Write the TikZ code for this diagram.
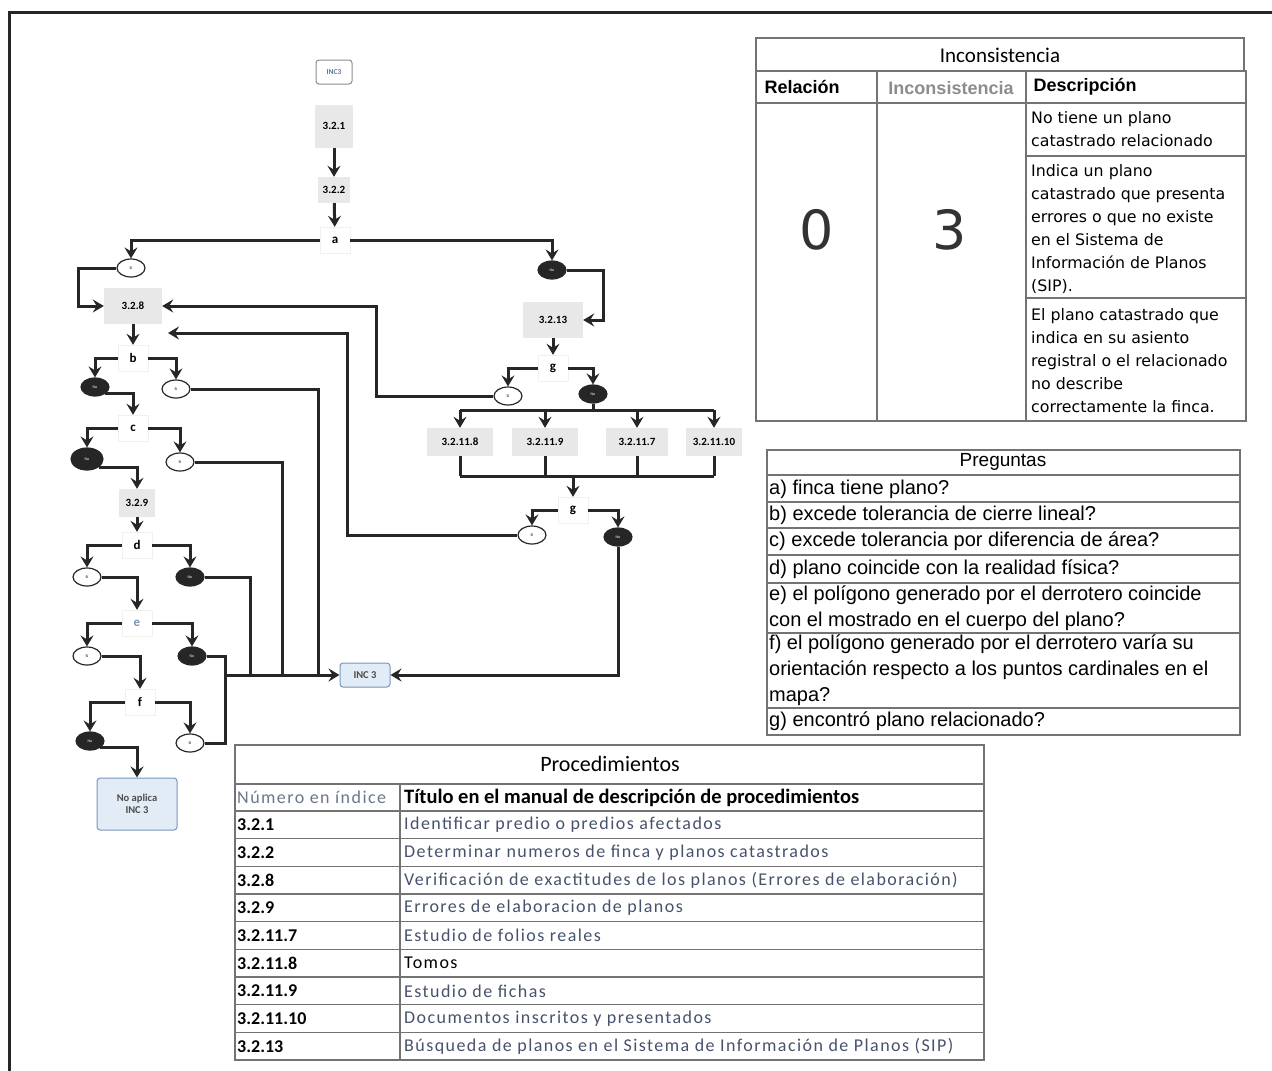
\documentclass[tikz,border=0pt]{standalone}
\usepackage{fontspec}
\setmainfont{Carlito}
\newfontfamily\arialfont{Liberation Sans}
\newfontfamily\verdfont{DejaVu Sans}
\newfontfamily\widefont[LetterSpace=8]{Carlito}
\usetikzlibrary{positioning,shapes.geometric,arrows.meta}

\definecolor{boxgray}{RGB}{232,232,232}
\definecolor{incblue}{RGB}{226,236,246}
\definecolor{incline}{RGB}{120,150,185}
\definecolor{titgray}{RGB}{70,82,108}
\definecolor{numgray}{RGB}{105,118,140}

\begin{document}
\begin{tikzpicture}[x=1pt, y=-1pt,
    proc/.style={rectangle, fill=boxgray, draw=none, inner sep=1pt, font=\fontsize{11}{12}\selectfont\bfseries},
    ask/.style={rectangle, fill=white, draw=black!6, minimum width=30pt, minimum height=26pt, font=\fontsize{13}{13}\selectfont\bfseries},
    yesell/.style={ellipse, draw=black!85, line width=1.2pt, fill=white, minimum width=28pt, minimum height=18pt, inner sep=0pt, font=\fontsize{4}{4}\selectfont},
    noell/.style={yesell, fill=black!85, text=white},
    inc/.style={rectangle, rounded corners=3pt, draw=incline, line width=1pt, fill=incblue, align=center, font=\fontsize{10.5}{12.5}\selectfont\bfseries, text=black!70},
    link/.style={draw=black!85, line width=3pt},
    go/.style={link, -{Stealth[length=11pt, width=13pt, inset=4pt]}},
    tab/.style={draw=black!55, line width=1.3pt},
    desc/.style={font=\verdfont\fontsize{15.8}{23}\selectfont, align=left, anchor=west, inner sep=2pt},
    qrow/.style={anchor=west, align=left, inner sep=1pt, font=\arialfont\fontsize{20}{26}\selectfont},
    head/.style={font=\arialfont\bfseries\fontsize{18}{20}\selectfont}
]
\useasboundingbox (0,0) rectangle (1272,1071);
\draw[line width=3pt, black!85] (9,1071) -- (9,12) -- (1272,12);

% flujo principal
\node[inc, draw=black!45, fill=white, text=incline!80!black, minimum width=36pt, minimum height=24pt, font=\fontsize{7.5}{7.5}\selectfont\bfseries] (inctop) at (334,72) {INC3};
\node[proc, minimum width=38pt, minimum height=43pt] (p321) at (334,126) {3.2.1};
\node[proc, minimum width=32pt, minimum height=26pt] (p322) at (334,190) {3.2.2};
\node[ask] (a) at (335,240) {a};
\node[yesell] (ya) at (131,268) {Sí};
\node[noell] (na) at (552,270) {No};
\node[proc, minimum width=58pt, minimum height=36pt] (p328) at (133,306) {3.2.8};
\node[ask] (b) at (133,358) {b};
\node[noell] (nb) at (95,387) {No};
\node[yesell] (yb) at (176,389) {Sí};
\node[ask] (c) at (133,428) {c};
\node[noell, minimum width=32pt, minimum height=22pt] (nc) at (87,459) {No};
\node[yesell] (yc) at (180,462) {Sí};
\node[proc, minimum width=36pt, minimum height=28pt] (p329) at (137,503) {3.2.9};
\node[ask] (d) at (137,545) {d};
\node[yesell] (yd) at (87,577) {Sí};
\node[noell] (nd) at (190,577) {No};
\node[ask, text=incline] (e) at (137,623) {e};
\node[yesell] (ye) at (87,656) {Sí};
\node[noell] (ne) at (192,656) {No};
\node[ask] (f) at (140,702) {f};
\node[noell] (nf) at (90,741) {No};
\node[yesell] (yf) at (190,743) {Sí};
\node[inc, minimum width=80pt, minimum height=52pt] (noapl) at (137,804) {No aplica\\INC 3};
\node[inc, minimum width=50pt, minimum height=24pt] (inc) at (365,675) {INC 3};

% rama de busqueda
\node[proc, minimum width=60pt, minimum height=36pt] (p3213) at (553,320) {3.2.13};
\node[ask] (g) at (553,368) {g};
\node[yesell] (yg) at (508,396) {Sí};
\node[noell] (ng) at (593,394) {No};
\node[proc, minimum width=66pt, minimum height=28pt] (p8) at (460,442) {3.2.11.8};
\node[proc, minimum width=66pt, minimum height=28pt] (p9) at (545,442) {3.2.11.9};
\node[proc, minimum width=62pt, minimum height=28pt] (p7) at (637,442) {3.2.11.7};
\node[proc, minimum width=56pt, minimum height=28pt] (p10) at (714,442) {3.2.11.10};
\node[ask] (g2) at (573,510) {g};
\node[yesell] (yg2) at (532,535) {Sí};
\node[noell] (ng2) at (618,537) {No};

\draw[go] (p321) -- (p322);
\draw[go] (p322) -- (a);
\draw[go] (a.west) -| (ya.north);
\draw[go] (a.east) -| (na.north);
\draw[go] (ya.west) -| ([xshift=-25pt]p328.west) -- (p328.west);
\draw[go] (na.east) -| ([xshift=20pt]p3213.east) -- (p3213.east);
\draw[go] (p328) -- (b);
\draw[go] (b.west) -| (nb.north);
\draw[go] (b.east) -| (yb.north);
\draw[go] (nb.south east) -| (c.north);
\draw[go] (c.west) -| (nc.north);
\draw[go] (c.east) -| (yc.north);
\draw[go] (nc.south east) -| (p329.north);
\draw[go] (p329) -- (d);
\draw[go] (d.west) -| (yd.north);
\draw[go] (d.east) -| (nd.north);
\draw[go] (yd.east) -| (e.north);
\draw[go] (e.west) -| (ye.north);
\draw[go] (e.east) -| (ne.north);
\draw[go] (ye.east) -| (f.north);
\draw[go] (f.west) -| (nf.north);
\draw[go] (f.east) -| (yf.north);
\draw[go] (nf.south east) -| (noapl.north);

% todo lo que termina en INC 3
\coordinate (bus) at (225,675);
\coordinate (k1) at (318,675);
\coordinate (k2) at (282,675);
\coordinate (k3) at (250,675);
\draw[link] (yb.east) -| (k1);
\draw[link] (yc.east) -| (k2);
\draw[link] (nd.east) -| (k3);
\draw[link] (ne.east) -| (bus);
\draw[link] (yf.east) -| (bus);
\draw[go] (bus) -- (inc.west);

\draw[go] (p3213) -- (g);
\draw[go] (g.west) -| (yg.north);
\draw[go] (g.east) -| (ng.north);
\draw[go] (yg.west) -| ([xshift=214pt]p328.east) |- (p328.east);
\coordinate (split) at (593,410);
\draw[link] (ng.south) -- (split);
\draw[link] (p8.north |- split) -- (p10.north |- split);
\foreach \n in {p8,p9,p7,p10}
    \draw[go] (\n.north |- split) -- (\n.north);
\coordinate (merge) at (573,476);
\foreach \n in {p8,p9,p7,p10}
    \draw[link] (\n.south) -- (\n.south |- merge);
\draw[link] (p8.south |- merge) -- (p10.south |- merge);
\draw[go] (merge) -- (g2.north);
\draw[go] (g2.west) -| (yg2.north);
\draw[go] (g2.east) -| (ng2.north);
\coordinate (back) at (168,333);
\draw[go] (yg2.west) -| ([xshift=179pt]back) -- (back);
\draw[go] (ng2.south) |- (inc.east);

% tabla de inconsistencia
\draw[tab] (756,38) rectangle (1244,71);
\draw[tab] (756,71) rectangle (1246,421);
\draw[tab] (756,103) -- (1246,103);
\draw[tab] (877,71) -- (877,421);
\draw[tab] (1026,71) -- (1026,421);
\draw[tab] (1026,156) -- (1246,156);
\draw[tab] (1026,298) -- (1246,298);
\node[font=\fontsize{21}{24}\selectfont] (inctitle) at (1000,55) {Inconsistencia};
\node[head, anchor=west] (hrel) at (761,87) {Relación};
\node[head, text=black!45] (hinc) at (951,88) {Inconsistencia};
\node[head, anchor=west] (hdesc) at (1030,87) {Descripción};
\node[font=\verdfont\fontsize{54}{60}\selectfont, text=black!80] (rel) at (817,230) {0};
\node[font=\verdfont\fontsize{54}{60}\selectfont, text=black!80] (incval) at (950,230) {3};
\node[desc] (d1) at (1029,129) {No tiene un plano\\catastrado relacionado};
\node[desc] (d2) at (1029,229) {Indica un plano\\catastrado que presenta\\errores o que no existe\\en el Sistema de\\Información de Planos\\(SIP).};
\node[desc] (d3) at (1029,361) {El plano catastrado que\\indica en su asiento\\registral o el relacionado\\no describe\\correctamente la finca.};

% preguntas
\draw[tab] (767,450) rectangle (1240,735);
\foreach \y in {475,502,528,555,583,633,708}
    \draw[tab] (767,\y) -- (1240,\y);
\node[font=\arialfont\fontsize{19}{21}\selectfont] (qt) at (1003,462) {Preguntas};
\node[qrow] (qa) at (768,489) {a) finca tiene plano?};
\node[qrow] (qb) at (768,515) {b) excede tolerancia de cierre lineal?};
\node[qrow] (qc) at (768,541.5) {c) excede tolerancia por diferencia de área?};
\node[qrow] (qd) at (768,569) {d) plano coincide con la realidad física?};
\node[qrow] (qe) at (768,608) {e) el polígono generado por el derrotero coincide\\con el mostrado en el cuerpo del plano?};
\node[qrow] (qf) at (768,670.5) {f) el polígono generado por el derrotero varía su\\orientación respecto a los puntos cardinales en el\\mapa?};
\node[qrow] (qg) at (768,721.5) {g) encontró plano relacionado?};

% procedimientos
\draw[tab] (235,745) rectangle (984,1060);
\draw[tab] (235,784) -- (984,784);
\foreach \i in {0,...,8}
    \draw[tab] (235,{811+27.67*\i}) -- (984,{811+27.67*\i});
\draw[tab] (400,784) -- (400,1060);
\node[font=\fontsize{22}{24}\selectfont] (proct) at (610,764) {Procedimientos};
\node[anchor=west, inner sep=1pt, text=numgray, font=\widefont\fontsize{18}{20}\selectfont] (hnum) at (236,797.5) {Número en índice};
\node[anchor=west, inner sep=1pt, font=\fontsize{20.5}{22}\selectfont\bfseries] (htit) at (403,797.5) {Título en el manual de descripción de procedimientos};
\foreach \num/\tit [count=\i] in {3.2.1/Identificar predio o predios afectados,
    3.2.2/Determinar numeros de finca y planos catastrados,
    3.2.8/Verificación de exactitudes de los planos (Errores de elaboración),
    3.2.9/Errores de elaboracion de planos,
    3.2.11.7/Estudio de folios reales,
    3.2.11.8/\textcolor{black}{Tomos},
    3.2.11.9/Estudio de fichas,
    3.2.11.10/Documentos inscritos y presentados,
    3.2.13/Búsqueda de planos en el Sistema de Información de Planos (SIP)} {
    \node[anchor=west, inner sep=1pt, font=\fontsize{18}{20}\selectfont\bfseries] (num\i) at (236,{811+27.67*(\i-0.5)}) {\num};
    \node[anchor=west, inner sep=1pt, text=titgray, font=\widefont\fontsize{18}{20}\selectfont] (tit\i) at (403,{811+27.67*(\i-0.5)}) {\tit};
}
\end{tikzpicture}
\end{document}
